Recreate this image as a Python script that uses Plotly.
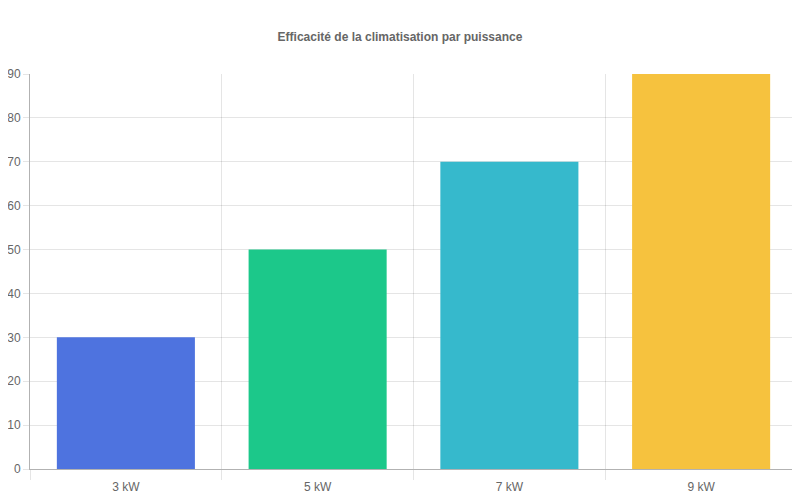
import plotly.graph_objects as go

categories = ["3 kW", "5 kW", "7 kW", "9 kW"]
efficiency = [30, 50, 70, 90]
bar_colors = ["#4e73df", "#1cc88a", "#36b9cc", "#f6c23e"]

fig = go.Figure()
fig.add_trace(
    go.Bar(
        x=categories,
        y=efficiency,
        marker=dict(color=bar_colors, line=dict(width=0)),
        hoverinfo="x+y",
    )
)

# closing gridline on the right edge of the plot area
fig.add_shape(
    type="line",
    xref="paper",
    yref="paper",
    x0=1,
    x1=1,
    y0=-0.025,
    y1=1,
    line=dict(color="rgba(0,0,0,0.1)", width=1),
    layer="below",
)

fig.update_layout(
    title=dict(
        text="<b>Efficacité de la climatisation par puissance</b>",
        x=0.49,
        xanchor="center",
        y=0.942,
        yanchor="middle",
        font=dict(family="Liberation Sans, Arial, sans-serif", size=12, color="#666"),
    ),
    font=dict(family="Liberation Sans, Arial, sans-serif", size=12, color="#666"),
    plot_bgcolor="white",
    paper_bgcolor="white",
    showlegend=False,
    bargap=0.28,
    width=800,
    height=500,
    margin=dict(l=22, r=11, t=66, b=39),
)
fig.update_xaxes(
    type="category",
    automargin=False,
    tickson="boundaries",
    ticks="outside",
    ticklen=10,
    tickcolor="rgba(0,0,0,0.1)",
    ticklabelstandoff=7,
    showgrid=True,
    gridcolor="rgba(0,0,0,0.1)",
    showline=True,
    linecolor="rgba(0,0,0,0.3)",
    linewidth=1,
)
fig.update_yaxes(
    range=[0, 90],
    dtick=10,
    automargin=False,
    ticks="outside",
    ticklen=6,
    tickcolor="rgba(0,0,0,0.1)",
    showgrid=True,
    gridcolor="rgba(0,0,0,0.1)",
    zeroline=False,
    showline=True,
    linecolor="rgba(0,0,0,0.3)",
    linewidth=1,
)

fig.write_html("out.html")
